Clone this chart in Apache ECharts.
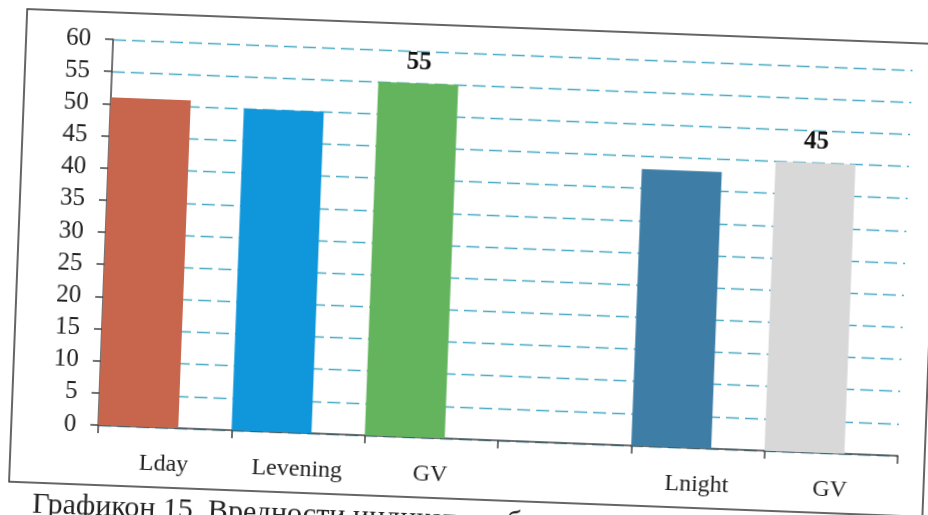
<!DOCTYPE html>
<html>
<head>
<meta charset="utf-8">
<script src="https://cdn.jsdelivr.net/npm/echarts@6/dist/echarts.min.js"></script>
<style>
html, body { margin: 0; padding: 0; background: #fff; overflow: hidden; width: 928px; height: 515px; }
/* canvas taller than the page so the rotated caption is not clipped */
#chart { width: 940px; height: 580px; transform: rotate(2.2deg); transform-origin: 464px 257.5px; }
</style>
</head>
<body>
<div id="chart"></div>
<script>
// categories on the x axis (the 4th one is an empty gap)
var categories = ['Lday', 'Levening', 'GV', '', 'Lnight', 'GV'];
// bar values
var values = [51, 50, 55, null, 43, 45];
// only the limit values carry a label
var labelledBars = [2, 5];
// y axis ticks
var yMin = 0, yMax = 60, yStep = 5;
var caption = 'Графикон 15. Вредности индикатора буке';

var barColors = ['#c8664d', '#1096da', '#63b45c', null, '#3e7ea6', '#d8d8d8'];

var chart = echarts.init(document.getElementById('chart'));

var barData = values.map(function (v, i) {
    return {
        value: v,
        itemStyle: { color: barColors[i] },
        label: { show: labelledBars.indexOf(i) >= 0 }
    };
});

chart.setOption({
    animation: false,
    backgroundColor: '#fff',
    grid: { left: 105, right: 35, top: 53, bottom: 141 },
    xAxis: {
        type: 'category',
        data: categories,
        boundaryGap: true,
        axisLine: { lineStyle: { color: '#444', width: 1.5 } },
        axisTick: { show: true, length: 8, lineStyle: { color: '#444', width: 1.5 } },
        axisLabel: {
            margin: 25,
            fontFamily: 'Liberation Serif',
            fontSize: 24,
            color: '#222',
            interval: 0
        }
    },
    yAxis: {
        type: 'value',
        min: yMin,
        max: yMax,
        interval: yStep,
        axisLine: { show: true, lineStyle: { color: '#444', width: 1.5 } },
        axisTick: { show: true, length: 8, lineStyle: { color: '#444', width: 1.5 } },
        axisLabel: {
            margin: 22,
            fontFamily: 'Liberation Serif',
            fontSize: 25,
            color: '#222'
        },
        splitLine: {
            show: true,
            lineStyle: { color: '#4aaac4', width: 1.4, type: [13, 6] }
        }
    },
    series: [
        {
            type: 'bar',
            data: barData,
            barCategoryGap: '0%',
            barGap: '-33.3%',
            label: {
                position: 'top',
                distance: 8,
                fontFamily: 'Liberation Serif',
                fontWeight: 'bold',
                fontSize: 25,
                color: '#111'
            }
        },
        {
            // empty spacer so each bar sits on the left of its category
            type: 'bar',
            data: values.map(function () { return null; }),
            barCategoryGap: '0%',
            barGap: '-33.3%',
            silent: true
        }
    ],
    graphic: [
        {
            type: 'rect',
            shape: { x: 18, y: 26, width: 914, height: 473 },
            style: { fill: null, stroke: '#333', lineWidth: 1.5 }
        },
        {
            type: 'text',
            left: 42,
            top: 506,
            style: {
                text: caption,
                font: '30px "Liberation Serif"',
                fill: '#222'
            }
        }
    ]
});
</script>
</body>
</html>
